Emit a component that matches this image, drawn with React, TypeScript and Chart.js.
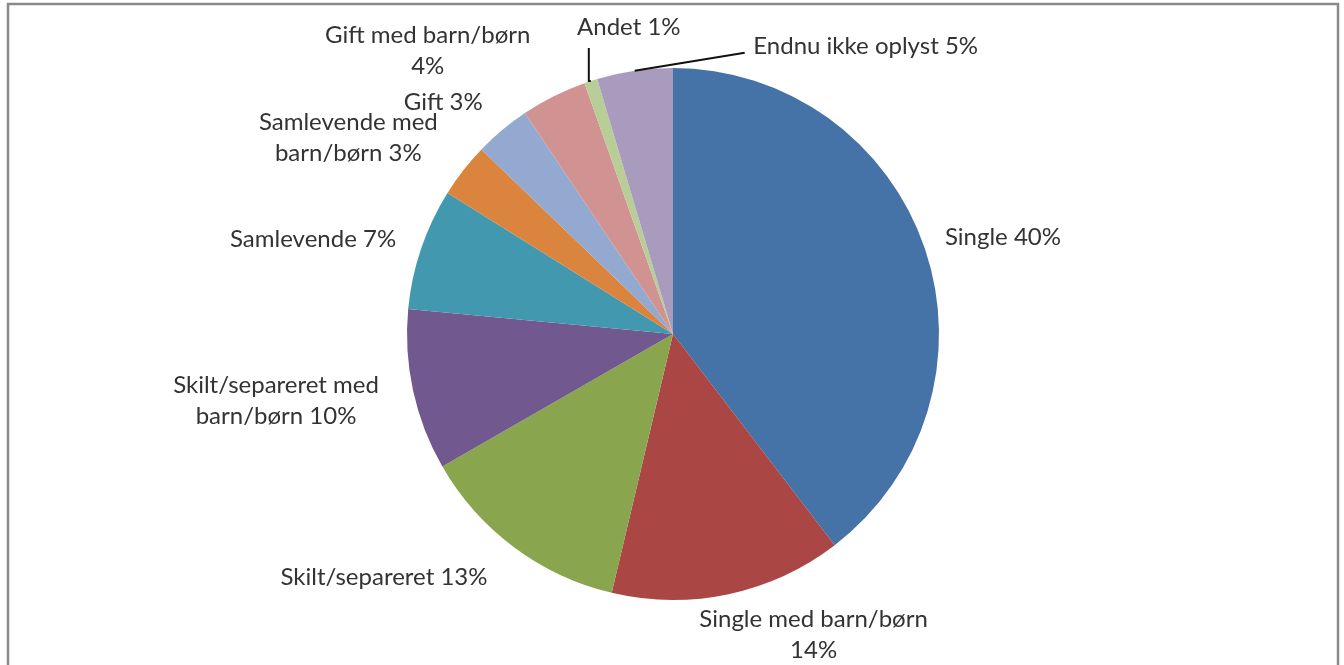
import React, { useEffect, useRef } from "react";
import { Chart, registerables } from "chart.js";

Chart.register(...registerables);

const categories = [
  "Single",
  "Single med barn/børn",
  "Skilt/separeret",
  "Skilt/separeret med barn/børn",
  "Samlevende",
  "Samlevende med barn/børn",
  "Gift",
  "Gift med barn/børn",
  "Andet",
  "Endnu ikke oplyst",
];

const values = [39.6, 14.1, 13.0, 9.8, 7.4, 3.3, 3.4, 4.0, 0.8, 4.6];

const colors = [
  "#4572A7",
  "#AA4643",
  "#89A54E",
  "#71588F",
  "#4198AF",
  "#DB843D",
  "#93A9CF",
  "#D19392",
  "#B9CD96",
  "#A99BBD",
];

const labelLines: string[][] = [
  ["Single 40%"],
  ["Single med barn/børn", "14%"],
  ["Skilt/separeret 13%"],
  ["Skilt/separeret med", "barn/børn 10%"],
  ["Samlevende 7%"],
  ["Samlevende med", "barn/børn 3%"],
  ["Gift 3%"],
  ["Gift med barn/børn", "4%"],
  ["Andet 1%"],
  ["Endnu ikke oplyst 5%"],
];

const labelOffsets: number[][] = [
  [78, -11],
  [85, 41],
  [-130, 30],
  [-137, 10],
  [-108, -9],
  [-115, -33],
  [-59, -28],
  [-126, -45],
  [38, -54],
  [231, -25],
];

const leaders: (number[][] | null)[] = [
  null, null, null, null, null, null, null, null,
  [[-2, 0], [-2, -33]],
  [[110, -18]],
];

const labelPlugin = {
  id: "sliceLabels",
  beforeDraw(chart: any) {
    const ctx = chart.ctx;
    ctx.save();
    ctx.strokeStyle = "#8a8a8a";
    ctx.lineWidth = 2.5;
    ctx.strokeRect(8, 4, 1330, 720);
    ctx.restore();
  },
  afterDatasetsDraw(chart: any) {
    const ctx = chart.ctx;
    const meta = chart.getDatasetMeta(0);
    ctx.save();
    ctx.font = "24px Lato";
    ctx.fillStyle = "#333333";
    ctx.strokeStyle = "#111111";
    ctx.lineWidth = 2;
    ctx.textAlign = "center";
    ctx.textBaseline = "middle";
    const lh = 31;
    meta.data.forEach((arc: any, i: number) => {
      const p = arc.getProps(["x", "y", "startAngle", "endAngle", "outerRadius"], true);
      const mid = (p.startAngle + p.endAngle) / 2;
      const ex = p.x + Math.cos(mid) * p.outerRadius;
      const ey = p.y + Math.sin(mid) * p.outerRadius;
      const off = labelOffsets[i];
      const lines = labelLines[i];
      const cx = ex + off[0];
      const cy = ey + off[1];
      lines.forEach((ln, k) => {
        ctx.fillText(ln, cx, cy + (k - (lines.length - 1) / 2) * lh);
      });
      const ld = leaders[i];
      if (ld) {
        ctx.beginPath();
        ctx.moveTo(ex, ey);
        ld.forEach((q) => ctx.lineTo(ex + q[0], ey + q[1]));
        ctx.stroke();
      }
    });
    ctx.restore();
  },
};

export default function App() {
  const ref = useRef<HTMLCanvasElement | null>(null);
  useEffect(() => {
    document.body.style.margin = "0";
    const canvas = ref.current;
    if (!canvas) return;
    const chart = new Chart(canvas, {
      type: "pie",
      data: {
        labels: categories,
        datasets: [
          {
            data: values,
            backgroundColor: colors,
            borderWidth: 0,
          },
        ],
      },
      options: {
        responsive: false,
        animation: false,
        devicePixelRatio: 1,
        layout: { padding: { top: 68, bottom: 65, left: 200, right: 198 } },
        plugins: {
          legend: { display: false },
          tooltip: { enabled: false },
        },
      },
      plugins: [labelPlugin],
    });
    return () => chart.destroy();
  }, []);
  return (
    <div style={{ width: 1344, height: 665, background: "#fff" }}>
      <canvas ref={ref} width={1344} height={665} style={{ display: "block" }} />
    </div>
  );
}
